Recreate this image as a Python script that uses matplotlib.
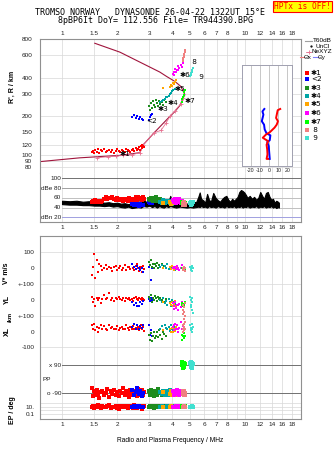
import numpy as np
from matplotlib import pyplot as plt

plt.rc('font', family='Liberation Sans', size=4.6)

W, H = 335, 451

title1 = 'TROMSO NORWAY   DYNASONDE 26-04-22 1322UT 15°E'
title2 = '8pBP6It DoY= 112.556 File= TR944390.BPG'

freq_ticks = [1, 1.5, 2, 3, 4, 5, 6, 7, 8, 9, 10, 12, 14, 16, 18]
freq_lab_top = ['1', '1.5', '2', '3', '4', '5', '6', '7', '8', '', '10', '12', '14', '16', '18']
freq_lab_db = ['1', '1.5', '2', '3', '4', '5', '6', '7', '8', '9', '10', '12', '14', '16', '18']
height_ticks = [80, 90, 100, 120, 150, 200, 300, 400, 600, 800]

# profile (true height) and NeXYZ points
prof_f = [0.76, 1.25, 2.07, 2.66, 2.78, 3.19, 3.73, 3.89, 4.14, 4.41, 4.59, 4.69, 4.45, 4.14, 3.73, 3.42, 2.07, 1.51]
prof_h = [88.6, 94.8, 99.1, 104, 120, 149, 188, 200, 218, 243, 278, 294, 342, 373, 408, 442, 632, 741]
nexyz_f = [1.55, 1.79, 1.96, 2.16, 2.40, 2.66, 2.78, 3.19, 3.47, 3.69, 3.89, 4.14, 4.45, 4.59]
nexyz_h = [95, 96.7, 97.7, 99, 100, 104, 120, 149, 155, 176, 200, 221, 250, 278]

# tilt inset
tiltx_deg = [12.3, 9.5, 7.7, 9.8, 8.4, 6.0, 0.7, -3.5, -7.0, -4.2, -1.1, -2.8, -2.1, -1.8, -2.8, -1.1]
tiltx_h = [228, 223, 194, 183, 172, 163, 150, 144, 136, 132, 128, 120, 110, 101, 93, 93]
tilty_deg = [-5.3, -7.4, -6.3, -8.1, -5.6, -4.9, -2.8, 1.4, 0.7, -2.1, -0.4, 0.0, 0.7]
tilty_h = [228, 218, 206, 183, 172, 158, 147, 142, 130, 126, 117, 107, 93]

# amplitude trace (T60dB band)
blk_f = [1.00, 1.10, 1.20, 1.30, 1.40, 1.50, 1.60, 1.70, 1.80, 1.90, 2.00, 2.10, 2.20, 2.30, 2.40, 2.50, 2.60,
         2.70, 2.75, 2.80, 2.90, 3.00, 3.10, 3.20, 3.30, 3.40, 3.50, 3.60, 3.70, 3.80, 3.90, 4.00, 4.20, 4.40,
         4.60, 4.80, 5.00, 5.20, 5.40, 5.55, 5.65, 5.75, 5.90, 6.05, 6.20, 6.35, 6.50, 6.70, 6.90, 7.10, 7.30,
         7.50, 7.70, 7.90, 8.10, 8.30, 8.50, 8.70, 8.90, 9.10, 9.30, 9.50, 9.70, 9.90, 10.1, 10.3, 10.6, 10.9,
         11.2, 11.5, 11.8, 12.1, 12.4, 12.7, 13.0, 13.3, 13.6, 13.9, 14.2, 14.5, 14.8, 15.1, 15.3]
blk_hi = [54, 53, 54, 52, 53, 51, 52, 50, 51, 49, 50, 48, 49, 47, 49, 50, 53,
          51, 64, 55, 51, 53, 50, 54, 49, 52, 57, 49, 52, 50, 64, 51, 49, 51,
          52, 48, 50, 52, 51, 62, 71, 58, 55, 50, 68, 56, 52, 70, 60, 55, 52,
          58, 62, 64, 56, 52, 58, 54, 58, 62, 72, 76, 74, 71, 66, 60, 64, 58,
          62, 56, 60, 72, 64, 58, 70, 72, 62, 56, 58, 50, 54, 52, 50]
blk_lo = [47, 46, 46, 45, 45, 44, 44, 43, 44, 42, 43, 41, 40, 42, 39, 40, 41,
          40, 42, 43, 42, 44, 41, 43, 40, 43, 41, 40, 43, 41, 43, 42, 40, 42,
          41, 40, 41, 40, 41, 42, 41, 43, 41, 42, 40, 43, 41, 42, 40, 43, 41,
          42, 40, 43, 41, 42, 41, 43, 40, 42, 41, 43, 40, 42, 41, 43, 40, 42,
          41, 43, 40, 42, 41, 43, 40, 42, 41, 43, 40, 42, 39, 41, 40]

# echo 1 (red)
r_f = [1.45, 1.48, 1.50, 1.52, 1.55, 1.58, 1.60, 1.63, 1.66, 1.70, 1.73, 1.76, 1.80, 1.84, 1.88, 1.92, 1.96, 2.00,
       2.04, 2.08, 2.12, 2.16, 2.20, 2.24, 2.28, 2.32, 2.36, 2.40, 2.44, 2.48, 2.52, 2.56, 2.60, 2.63, 2.66, 2.69,
       2.72, 2.75, 2.78, 2.80]
r_h = [105, 108, 103, 110, 106, 112, 104, 109, 107, 111, 105, 108, 110, 106, 109, 104, 108, 111, 107, 105,
       110, 108, 106, 112, 109, 107, 105, 110, 111, 108, 113, 109, 112, 115, 110, 117, 114, 120, 118, 116]
r_db = [52, 54, 51, 55, 53, 52, 54, 51, 53, 58, 62, 57, 60, 59, 61, 58, 56, 60, 57, 55,
        58, 53, 56, 57, 54, 59, 55, 57, 53, 58, 61, 56, 62, 59, 57, 60, 55, 58, 61, 57]
r_v = [-40, 10, 90, -60, 50, -20, 30, 15, -10, 5, 20, -5, 10, 0, -15, 8, 12, -8, 5, 15,
       -10, 0, 20, -12, 6, 10, -5, 25, 0, -10, 12, 30, 5, -15, 10, 0, -20, 8, 15, -5]
r_yl = [20, -10, 5, -40, 10, 0, 15, -20, 8, 30, 5, 12, 45, 0, 10, -5, 15, 8, 20, 5,
        0, 10, -8, 12, 5, 15, 0, 8, -5, 10, 20, 5, 0, 10, -10, 5, 15, 0, 8, 3]
r_xl = [40, 20, 50, 10, 30, 0, 25, 45, 15, 35, 20, 10, 40, 25, 30, 15, 20, 35, 10, 25,
        30, 20, 15, 40, 25, 10, 30, 20, 35, 15, 25, 20, 30, 10, 25, 40, 15, 20, 30, 5]
r_pp = [-60, -110, -80, -100, -70, -95, -120, -85, -75, -105, -90, -65, -115, -80, -95, -70, -100, -85, -110, -75,
        -90, -60, -105, -80, -95, -115, -70, -90, -100, -85, -75, -110, -65, -95, -80, -105, -90, -70, -100, -85]
r_ep = [10, 20, 5, 14, 8, 25, 12, 4, 16, 10, 7, 13, 22, 5, 11, 9, 18, 6, 3, 14,
        10, 20, 7, 12, 5, 16, 9, 13, 6, 24, 11, 4, 10, 18, 7, 14, 3, 12, 9, 20]

# echo 2 (blue)
b_f = [2.42, 2.48, 2.52, 2.58, 2.62, 2.66, 2.72, 2.78, 2.98, 3.02, 3.06, 3.10]
b_h = [198, 204, 195, 201, 192, 199, 190, 186, 188, 196, 204, 210]
b_db = [47, 45, 48, 46, 44, 47, 45, 46, 52, 50, 53, 49]
b_v = [30, 10, -5, 15, 5, -10, 0, -25, 10, 20, -70, 5]
b_yl = [-10, -30, -20, -40, -35, -15, -25, -5, 5, -5, 10, 0]
b_xl = [30, 50, 20, 40, 15, 35, 25, 45, 40, -20, 10, -30]
b_pp = [-70, -100, -85, -60, -95, -80, -110, -90, -75, -95, -85, -100]
b_ep = [10, 14, 8, 12, 16, 7, 11, 9, 10, 13, 8, 12]

# echo 3 (green)
g_f = [2.98, 3.02, 3.06, 3.10, 3.14, 3.18, 3.22, 3.26, 3.30, 3.35, 3.40, 3.45, 3.50, 3.55, 3.62, 3.70]
g_h = [240, 225, 255, 232, 262, 245, 236, 270, 252, 240, 262, 248, 256, 244, 266, 258]
g_db = [58, 55, 60, 57, 53, 59, 56, 61, 54, 58, 55, 57, 52, 56, 54, 53]
g_v = [40, 20, 50, 10, 30, 0, 25, 15, 35, 5, 20, 10, 30, 0, 15, 5]
g_yl = [20, 5, 30, -10, 15, 0, 25, 10, -5, 20, 5, 15, 0, 10, -15, 5]
g_xl = [-20, -50, -10, -60, -30, 0, -40, -25, -5, -35, 10, -20, -45, 0, -15, -30]
g_pp = [-80, -100, -70, -95, -85, -110, -75, -90, -100, -65, -90, -85, -105, -80, -95, -90]
g_ep = [8, 12, 15, 9, 11, 6, 13, 9, 10, 18, 8, 11, 14, 9, 12, 10]

# echo 4 (teal)
t_f = [3.45, 3.52, 3.58, 3.64, 3.70, 3.76, 3.82, 3.88, 3.94, 4.00, 4.06, 4.12]
t_h = [258, 262, 270, 272, 280, 285, 290, 298, 305, 312, 318, 325]
t_db = [52, 50, 55, 49, 53, 51, 54, 50, 52, 48, 55, 51]
t_v = [10, 20, 0, 15, 5, 25, -5, 10, 0, 15, 5, -10]
t_yl = [0, -10, 10, -20, -5, -30, 5, -15, -40, 0, -10, -25]
t_xl = [20, 35, 10, 45, 25, 15, 30, 5, 40, 20, 10, 30]
t_pp = [-85, -95, -75, -100, -90, -80, -105, -70, -95, -85, -100, -90]
t_ep = [10, 12, 9, 11, 10, 13, 9, 10, 11, 8, 12, 10]

# echo 5 (orange)
o_f = [3.57, 3.90, 3.95, 4.00, 4.05, 4.10, 4.15, 4.20]
o_h = [333, 340, 350, 345, 360, 355, 372, 385]
o_db = [50, 52, 48, 51, 53, 49, 50, 52]
o_v = [5, 10, -5, 15, 0, -10, 8, 2]
o_yl = [-10, -20, -30, -15, -40, -25, -5, -35]
o_xl = [10, 20, 0, 25, -5, 15, 5, 30]
o_pp = [-85, -95, -80, -100, -90, -75, -105, -90]
o_ep = [10, 9, 12, 10, 11, 8, 10, 13]

# echo 6 (magenta)
m_f = [4.02, 4.08, 4.14, 4.20, 4.26, 4.32, 4.38, 4.44, 4.50, 4.56, 4.10, 4.30]
m_h = [430, 445, 470, 440, 460, 490, 475, 505, 480, 520, 420, 455]
m_db = [55, 52, 58, 50, 56, 53, 57, 49, 54, 51, 56, 52]
m_v = [5, 0, 10, -5, 15, 0, -10, 5, 20, 0, 8, -3]
m_yl = [-20, -40, -10, -50, -30, -60, -25, -45, -15, -35, -55, -30]
m_xl = [30, 10, 50, 20, 40, 0, 25, 60, 15, 35, 45, 20]
m_pp = [-80, -100, -85, -95, -70, -90, -105, -80, -95, -85, -100, -90]
m_ep = [10, 11, 9, 12, 10, 8, 13, 10, 9, 11, 10, 12]

# echo 7 (lime)
l_f = [4.50, 4.54, 4.58, 4.62, 4.66, 4.70]
l_h = [260, 272, 285, 295, 308, 318]
l_db = [50, 52, 48, 51, 49, 50]
l_v = [0, 5, -5, 10, 0, -8]
l_yl = [-30, -20, -40, -25, -35, -15]
l_xl = [-50, -20, -30, -10, -40, -25]
l_pp = [90, 110, 70, 100, 80, 95]
l_ep = [10, 12, 9, 11, 10, 13]

# echo 8 (salmon)
s_f = [4.56, 4.58, 4.60, 4.62, 4.64, 4.66, 4.68, 4.72]
s_h = [535, 550, 565, 580, 595, 610, 630, 655]
s_db = [48, 50, 46, 49, 47, 51, 45, 48]
s_v = [0, -10, 5, -5, 10, 0, -15, 3]
s_yl = [-30, -60, -90, -45, -120, -75, -20, -100]
s_xl = [20, 40, 0, 50, 10, 30, 60, 15]
s_pp = [-85, -95, -80, -100, -90, -75, -105, -90]
s_ep = [10, 9, 11, 10, 12, 8, 10, 11]

# echo 9 (cyan)
c_f = [5.00, 5.04, 5.08, 5.12, 5.16, 5.20, 5.06, 5.14]
c_h = [410, 420, 432, 445, 458, 472, 425, 450]
c_db = [50, 48, 52, 47, 49, 51, 46, 50]
c_v = [10, -5, 0, 15, -15, 5, -10, 8]
c_yl = [20, -30, 0, -60, -10, -80, -45, 10]
c_xl = [40, 10, 25, 50, 0, 30, 15, 20]
c_pp = [100, 80, 110, 70, 90, 95, 85, 105]
c_ep = [10, 9, 11, 10, 12, 10, 9, 11]

echo_names = ['✱1', '<2', '✱3', '✱4', '✱5', '✱6', '✱7', ' 8', ' 9']
echo_cols = ['#ff0000', '#0000ff', '#1e8c1e', '#00a5a5', '#ffa500', '#ff00ff', '#00ff00', '#f08080', '#40e0d0']
lab_f = [2.07, 2.87, 3.34, 3.79, 4.09, 4.36, 4.69, 4.99, 5.44]
lab_h = [101, 185, 228, 253, 328, 417, 264, 532, 406]

echoes = [
    (r_f, r_h, r_db, r_v, r_yl, r_xl, r_pp, r_ep),
    (b_f, b_h, b_db, b_v, b_yl, b_xl, b_pp, b_ep),
    (g_f, g_h, g_db, g_v, g_yl, g_xl, g_pp, g_ep),
    (t_f, t_h, t_db, t_v, t_yl, t_xl, t_pp, t_ep),
    (o_f, o_h, o_db, o_v, o_yl, o_xl, o_pp, o_ep),
    (m_f, m_h, m_db, m_v, m_yl, m_xl, m_pp, m_ep),
    (l_f, l_h, l_db, l_v, l_yl, l_xl, l_pp, l_ep),
    (s_f, s_h, s_db, s_v, s_yl, s_xl, s_pp, s_ep),
    (c_f, c_h, c_db, c_v, c_yl, c_xl, c_pp, c_ep),
]

GRID = '#d8d8d8'
SPINE = '#909090'
TXT = '#202020'
MS = 4.2


def fax(x0, y0, x1, y1):
    # axes from pixel box (top-left origin)
    return fig.add_axes([x0 / W, 1 - y1 / H, (x1 - x0) / W, (y1 - y0) / H])


def freq_axis(ax):
    ax.set_xscale('log')
    ax.set_xlim(0.758, 20.2)
    ax.set_xticks(freq_ticks)
    ax.minorticks_off()
    ax.tick_params(length=0, colors=TXT, labelsize=4.6)
    for f in freq_ticks:
        ax.axvline(f, color=GRID, lw=0.5, zorder=0)
    for s in ax.spines.values():
        s.set_color(SPINE)
        s.set_linewidth(0.8)


fig = plt.figure(figsize=(W / 100, H / 100), dpi=100)

fig.text(150 / W, 1 - 12.7 / H, title1, family='DejaVu Sans Mono', fontsize=6, ha='center', va='center')
fig.text(156 / W, 1 - 20.3 / H, title2, family='DejaVu Sans Mono', fontsize=6, ha='center', va='center')
fig.text(302.5 / W, 1 - 6.5 / H, 'HPTx is OFF!', family='DejaVu Sans Mono', fontsize=5.7, color='red',
         ha='center', va='center', bbox=dict(facecolor='yellow', edgecolor='red', pad=1.0, lw=0.8))

# ---- ionogram ----
ax1 = fax(40, 39, 301, 173)
freq_axis(ax1)
ax1.set_yscale('log')
ax1.set_ylim(72.2, 800)
ax1.set_yticks(height_ticks)
ax1.set_yticklabels([str(h) for h in height_ticks])
ax1.minorticks_off()
for h in height_ticks:
    ax1.axhline(h, color=GRID, lw=0.5, zorder=0)
ax1.xaxis.tick_top()
ax1.set_xticklabels(freq_lab_top)
ax1.tick_params(axis='x', pad=2.2)
ax1.tick_params(axis='y', pad=5.5)
ax1.spines['bottom'].set_visible(False)
fig.text(12.7 / W, 1 - 87 / H, "R', R / km", rotation=90, fontsize=5, fontweight='bold', ha='center', va='center')

ax1.plot(prof_f, prof_h, color='#a0143c', lw=0.8, zorder=2)
ax1.plot(nexyz_f, nexyz_h, color='#e87090', lw=0.6, marker='+', ms=2.5, mew=0.6, zorder=3)
for (ef, eh, *_), col in zip(echoes, echo_cols):
    ax1.scatter(ef, eh, s=MS, marker='s', color=col, lw=0, zorder=4)
for name, lf, lh in zip(echo_names, lab_f, lab_h):
    ax1.text(lf, lh, name, fontsize=5.2, family='DejaVu Sans', ha='left', va='center', zorder=5)

# tilt inset
axt = fax(242, 65, 291.7, 166)
axt.set_yscale('log')
axt.set_ylim(81.9, 502)
axt.set_xlim(-30, 25)
axt.set_yticks([])
axt.minorticks_off()
axt.set_xticks([-20, -10, 0, 10, 20])
axt.set_xticklabels(['-20', '-10', '0', '10', '20'])
axt.tick_params(length=0, labelsize=3.8, pad=1.2, colors=TXT)
axt.set_xlabel('Tilt / deg', fontsize=3.8, labelpad=0.5)
for t in [-20, -10, 0, 10, 20]:
    axt.axvline(t, color='#b0b0b0', lw=0.5, zorder=0)
for s in axt.spines.values():
    s.set_color('#a0a0b0')
    s.set_linewidth(0.7)
axt.plot(tilty_deg, tilty_h, color='#0000ff', lw=1.4)
axt.plot(tiltx_deg, tiltx_h, color='#ff0000', lw=1.4)

# ---- amplitude ----
ax2 = fax(40, 173, 301, 222)
freq_axis(ax2)
ax2.set_ylim(10.4, 110.9)
ax2.set_yticks([])
ax2.set_xticklabels(freq_lab_db)
ax2.tick_params(axis='x', pad=2.2)
ax2.spines['top'].set_visible(False)
db_lines = [100, 80, 60, 40, 20]
db_labels = ['100', 'dBe 80', '60', '40', 'dBn 20']
db_cols = ['#707070', '#a0a0a0', '#c0c0c0', '#c0c0c0', '#a0a0e0']
for v, lab, col in zip(db_lines, db_labels, db_cols):
    ax2.axhline(v, xmin=0.0843, color=col, lw=0.7, zorder=1)
    ax2.text(0.99, v, lab, ha='right', va='center', fontsize=4.6, color=TXT)
ax2.fill_between(blk_f, blk_lo, blk_hi, color='black', lw=0.8, zorder=2)
for (ef, eh, edb, *_), col in zip(echoes, echo_cols):
    ax2.scatter(ef, edb, s=MS * 1.8, marker='s', color=col, lw=0, zorder=3)

# ---- lower stacked panel (pixel rows) ----
ax3 = fax(40, 235.7, 301, 419)
freq_axis(ax3)
ax3.set_ylim(419, 235.7)
ax3.set_xticklabels(freq_lab_top)
ax3.tick_params(axis='x', pad=2.2)
ax3.set_xlabel('Radio and Plasma Frequency / MHz', fontsize=4.8, labelpad=7)
ytick_pos = [252.3, 268.3, 284, 300, 316, 331.7, 347.3, 406.7, 414]
ytick_lab = ['100', '0', '+-100', '0', '+-100', '0', '-100', '10.', '0.1']
ax3.set_yticks(ytick_pos)
ax3.set_yticklabels(ytick_lab)
ax3.tick_params(axis='y', pad=4)
for y in [252.3, 284, 316, 347.3, 403, 406.7, 410.3, 414]:
    ax3.axhline(y, color=GRID, lw=0.5, zorder=0)
for y in [365, 393]:
    ax3.axhline(y, xmin=0.0843, color='#707070', lw=0.7, zorder=1)
ax3.text(0.99, 365, 'x 90', ha='right', va='center', fontsize=4.6, color=TXT)
ax3.text(0.99, 393, 'o -90', ha='right', va='center', fontsize=4.6, color=TXT)
ax3.text(0.785, 379.3, 'PP', ha='left', va='center', fontsize=4.6, color=TXT)

for (ef, eh, edb, ev, eyl, exl, epp, eep), col in zip(echoes, echo_cols):
    ef = np.array(ef)
    ax3.scatter(ef, 268.3 - np.array(ev) * 0.16, s=MS, marker='s', color=col, lw=0)
    ax3.scatter(ef, 300 - np.array(eyl) * 0.16, s=MS, marker='s', color=col, lw=0)
    ax3.scatter(ef, 331.7 - np.array(exl) * 0.157, s=MS, marker='s', color=col, lw=0)
    ax3.scatter(ef, 379 - np.array(epp) * 14 / 90, s=MS * 1.8, marker='s', color=col, lw=0)
    ax3.scatter(ef, 410.35 - np.log10(eep) * 3.65, s=MS * 1.8, marker='s', color=col, lw=0)

fig.text(7 / W, 1 - 273 / H, 'V* m/s', rotation=90, fontsize=5, fontweight='bold', ha='center', va='center')
fig.text(7 / W, 1 - 300 / H, 'YL', rotation=90, fontsize=5, fontweight='bold', ha='center', va='center')
fig.text(10 / W, 1 - 317 / H, '/km', rotation=90, fontsize=4.2, fontweight='bold', ha='center', va='center')
fig.text(7 / W, 1 - 332 / H, 'XL', rotation=90, fontsize=5, fontweight='bold', ha='center', va='center')
fig.text(13 / W, 1 - 410 / H, 'EP / deg', rotation=90, fontsize=5, fontweight='bold', ha='center', va='center')

# ---- legend (pixel overlay) ----
axl = fig.add_axes([0, 0, 1, 1])
axl.set_xlim(0, W)
axl.set_ylim(H, 0)
axl.axis('off')
axl.plot([305, 312], [41, 41], color='#a0a0a0', lw=0.8)
axl.text(313, 41, 'T60dB', fontsize=4.6, va='center')
axl.plot([311], [46.3], marker='.', color='black', ms=1.2)
axl.text(315, 46.3, 'UnCl', fontsize=4.6, va='center')
axl.plot([306, 311], [51.7, 51.7], color='#e87090', lw=0.6)
axl.plot([308.5], [51.7], marker='+', color='#e87090', ms=3, mew=0.6)
axl.text(312, 51.7, 'NeXYZ', fontsize=4.6, va='center')
axl.plot([300, 303.5], [57.3, 57.3], color='#f08080', lw=0.8)
axl.text(304, 57.3, 'Θx', fontsize=4.4, va='center')
axl.plot([313, 317.5], [57.3, 57.3], color='#8080ff', lw=0.8)
axl.text(318, 57.3, 'Θy', fontsize=4.4, va='center')
leg_y = [73.3, 79.3, 88.3, 96.3, 104.3, 113.3, 121.7, 130, 138.3]
for name, col, y in zip(echo_names, echo_cols, leg_y):
    axl.scatter([306.7], [y], s=5, marker='s', color=col, lw=0)
    axl.text(311, y, name, fontsize=5.2, family='DejaVu Sans', va='center')

plt.savefig('out.png', dpi=100)
